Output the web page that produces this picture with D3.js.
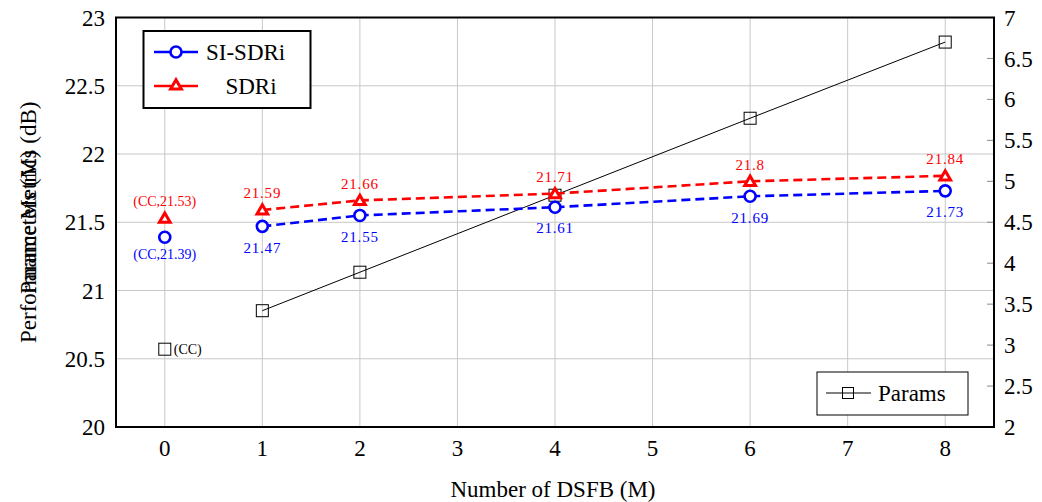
<!DOCTYPE html>
<html><head><meta charset="utf-8">
<script src="https://cdn.jsdelivr.net/npm/d3@7"></script>
<style>body{margin:0;background:#fff}svg{display:block}</style>
</head><body><svg id="c" width="1042" height="502" font-family="'Liberation Serif', 'Times New Roman', 'DejaVu Serif', serif"></svg>
<script>
const xValues = [1, 2, 4, 6, 8];
const siSdri = [21.47, 21.55, 21.61, 21.69, 21.73];
const sdri = [21.59, 21.66, 21.71, 21.80, 21.84];
const params = [3.42, 3.89, 4.83, 5.77, 6.70];
const ccX = 0;
const ccSiSdri = 21.39, ccSdri = 21.53, ccParams = 2.95;
const xTicks = [0,1,2,3,4,5,6,7,8];
const yLeftTicks = [20,20.5,21,21.5,22,22.5,23];
const yRightTicks = [2,2.5,3,3.5,4,4.5,5,5.5,6,6.5,7];
const sdriLabels = ["21.59","21.66","21.71","21.8","21.84"];
const siLabels = ["21.47","21.55","21.61","21.69","21.73"];

const svg = d3.select("#c");
const L=116, R=994, T=17.5, B=427;
const x = d3.scaleLinear().domain([-0.5,8.5]).range([L,R]);
const yL = d3.scaleLinear().domain([20,23]).range([B,T]);
const yR = d3.scaleLinear().domain([2,7]).range([B,T]);
const BLUE="#0000ff", RED="#ff0000";

// grid
svg.append("g").selectAll("line").data(xTicks).join("line")
  .attr("x1",d=>x(d)).attr("x2",d=>x(d)).attr("y1",T).attr("y2",B)
  .attr("stroke","#c8c8c8").attr("stroke-width",1);
svg.append("g").selectAll("line").data(yLeftTicks).join("line")
  .attr("x1",L).attr("x2",R).attr("y1",d=>yL(d)).attr("y2",d=>yL(d))
  .attr("stroke","#c8c8c8").attr("stroke-width",1);

const fs=23;
svg.append("g").selectAll("text").data(yLeftTicks).join("text")
  .attr("x",105).attr("y",d=>yL(d)).attr("dy","0.35em").attr("text-anchor","end")
  .attr("font-size",fs).text(d=>d);
svg.append("g").selectAll("text").data(yRightTicks).join("text")
  .attr("x",1004).attr("y",d=>yR(d)).attr("dy","0.35em").attr("text-anchor","start")
  .attr("font-size",fs).text(d=>d);
svg.append("g").selectAll("text").data(xTicks).join("text")
  .attr("x",d=>x(d)).attr("y",448).attr("dy","0.35em").attr("text-anchor","middle")
  .attr("font-size",fs).text(d=>d);
svg.append("g").selectAll("line").data(yRightTicks).join("line")
  .attr("x1",R-7).attr("x2",R).attr("y1",d=>yR(d)).attr("y2",d=>yR(d))
  .attr("stroke","#888").attr("stroke-width",1);

svg.append("text").attr("x",553).attr("y",489).attr("dy","0.35em").attr("text-anchor","middle")
  .attr("font-size",fs).text("Number of DSFB (M)");
["Performance Metrics (dB)","Parameters (M)"].forEach(t=>{
  svg.append("text").attr("transform",`translate(28,${(T+B)/2}) rotate(-90)`).attr("dy","0.35em")
    .attr("text-anchor","middle").attr("font-size",fs).text(t);
});

const lineP = d3.line().x((d,i)=>x(xValues[i])).y(d=>yR(d));
svg.append("path").attr("d",lineP(params)).attr("fill","none").attr("stroke","#000").attr("stroke-width",1);
const sq=12;
function square(cx,cy){svg.append("rect").attr("x",cx-sq/2).attr("y",cy-sq/2).attr("width",sq).attr("height",sq)
  .attr("fill","none").attr("stroke","#000").attr("stroke-width",1);}
params.forEach((v,i)=>square(x(xValues[i]),yR(v)));
square(x(ccX),yR(ccParams));
svg.append("text").attr("x",x(ccX)+9).attr("y",yR(ccParams)).attr("dy","0.35em").attr("font-size",14).text("(CC)");

const lineL = d3.line().x((d,i)=>x(xValues[i])).y(d=>yL(d));
svg.append("path").attr("d",lineL(sdri)).attr("fill","none").attr("stroke",RED).attr("stroke-width",2.6).attr("stroke-dasharray","9,5");
svg.append("path").attr("d",lineL(siSdri)).attr("fill","none").attr("stroke",BLUE).attr("stroke-width",2.6).attr("stroke-dasharray","9,5");

function circle(cx,cy){svg.append("circle").attr("cx",cx).attr("cy",cy).attr("r",5.5).attr("fill","#fff").attr("stroke",BLUE).attr("stroke-width",2.6);}
const tri = d3.symbol().type(d3.symbolTriangle).size(50);
function triangle(cx,cy){svg.append("path").attr("d",tri()).attr("transform",`translate(${cx},${cy+1})`).attr("fill","#fff").attr("stroke",RED).attr("stroke-width",3);}

siSdri.forEach((v,i)=>circle(x(xValues[i]),yL(v)));
sdri.forEach((v,i)=>triangle(x(xValues[i]),yL(v)));
circle(x(ccX),yL(ccSiSdri));
triangle(x(ccX),yL(ccSdri));

const lfs=15;
siSdri.forEach((v,i)=>svg.append("text").attr("x",x(xValues[i])).attr("y",yL(v)+21).attr("dy","0.35em")
  .attr("text-anchor","middle").attr("font-size",lfs).attr("fill",BLUE).attr("letter-spacing","0.8").text(siLabels[i]));
sdri.forEach((v,i)=>svg.append("text").attr("x",x(xValues[i])).attr("y",yL(v)-17).attr("dy","0.35em")
  .attr("text-anchor","middle").attr("font-size",lfs).attr("fill",RED).attr("letter-spacing","0.8").text(sdriLabels[i]));
svg.append("text").attr("x",x(ccX)).attr("y",yL(ccSiSdri)+17).attr("dy","0.35em").attr("text-anchor","middle")
  .attr("font-size",14).attr("fill",BLUE).text("(CC,"+ccSiSdri+")");
svg.append("text").attr("x",x(ccX)).attr("y",yL(ccSdri)-17).attr("dy","0.35em").attr("text-anchor","middle")
  .attr("font-size",14).attr("fill",RED).text("(CC,"+ccSdri+")");

svg.append("rect").attr("x",L).attr("y",T).attr("width",R-L).attr("height",B-T).attr("fill","none").attr("stroke","#000").attr("stroke-width",2);

svg.append("rect").attr("x",143.5).attr("y",31).attr("width",167).attr("height",77).attr("fill","#fff").attr("stroke","#000").attr("stroke-width",2);
svg.append("line").attr("x1",154).attr("x2",198).attr("y1",52).attr("y2",52).attr("stroke",BLUE).attr("stroke-width",2.6);
circle(176,52);
svg.append("text").attr("x",206).attr("y",52).attr("dy","0.35em").attr("font-size",fs).text("SI-SDRi");
svg.append("line").attr("x1",154).attr("x2",198).attr("y1",86).attr("y2",86).attr("stroke",RED).attr("stroke-width",2.6);
triangle(176,85);
svg.append("text").attr("x",251).attr("y",86).attr("dy","0.35em").attr("text-anchor","middle").attr("font-size",fs).text("SDRi");

svg.append("rect").attr("x",817).attr("y",372).attr("width",151).attr("height",43).attr("fill","#fff").attr("stroke","#000").attr("stroke-width",1);
svg.append("line").attr("x1",826).attr("x2",871).attr("y1",393).attr("y2",393).attr("stroke","#000").attr("stroke-width",1);
svg.append("rect").attr("x",842.5).attr("y",387.5).attr("width",11).attr("height",11).attr("fill","none").attr("stroke","#000").attr("stroke-width",1);
svg.append("text").attr("x",878).attr("y",393).attr("dy","0.35em").attr("font-size",fs).text("Params");
</script></body></html>
